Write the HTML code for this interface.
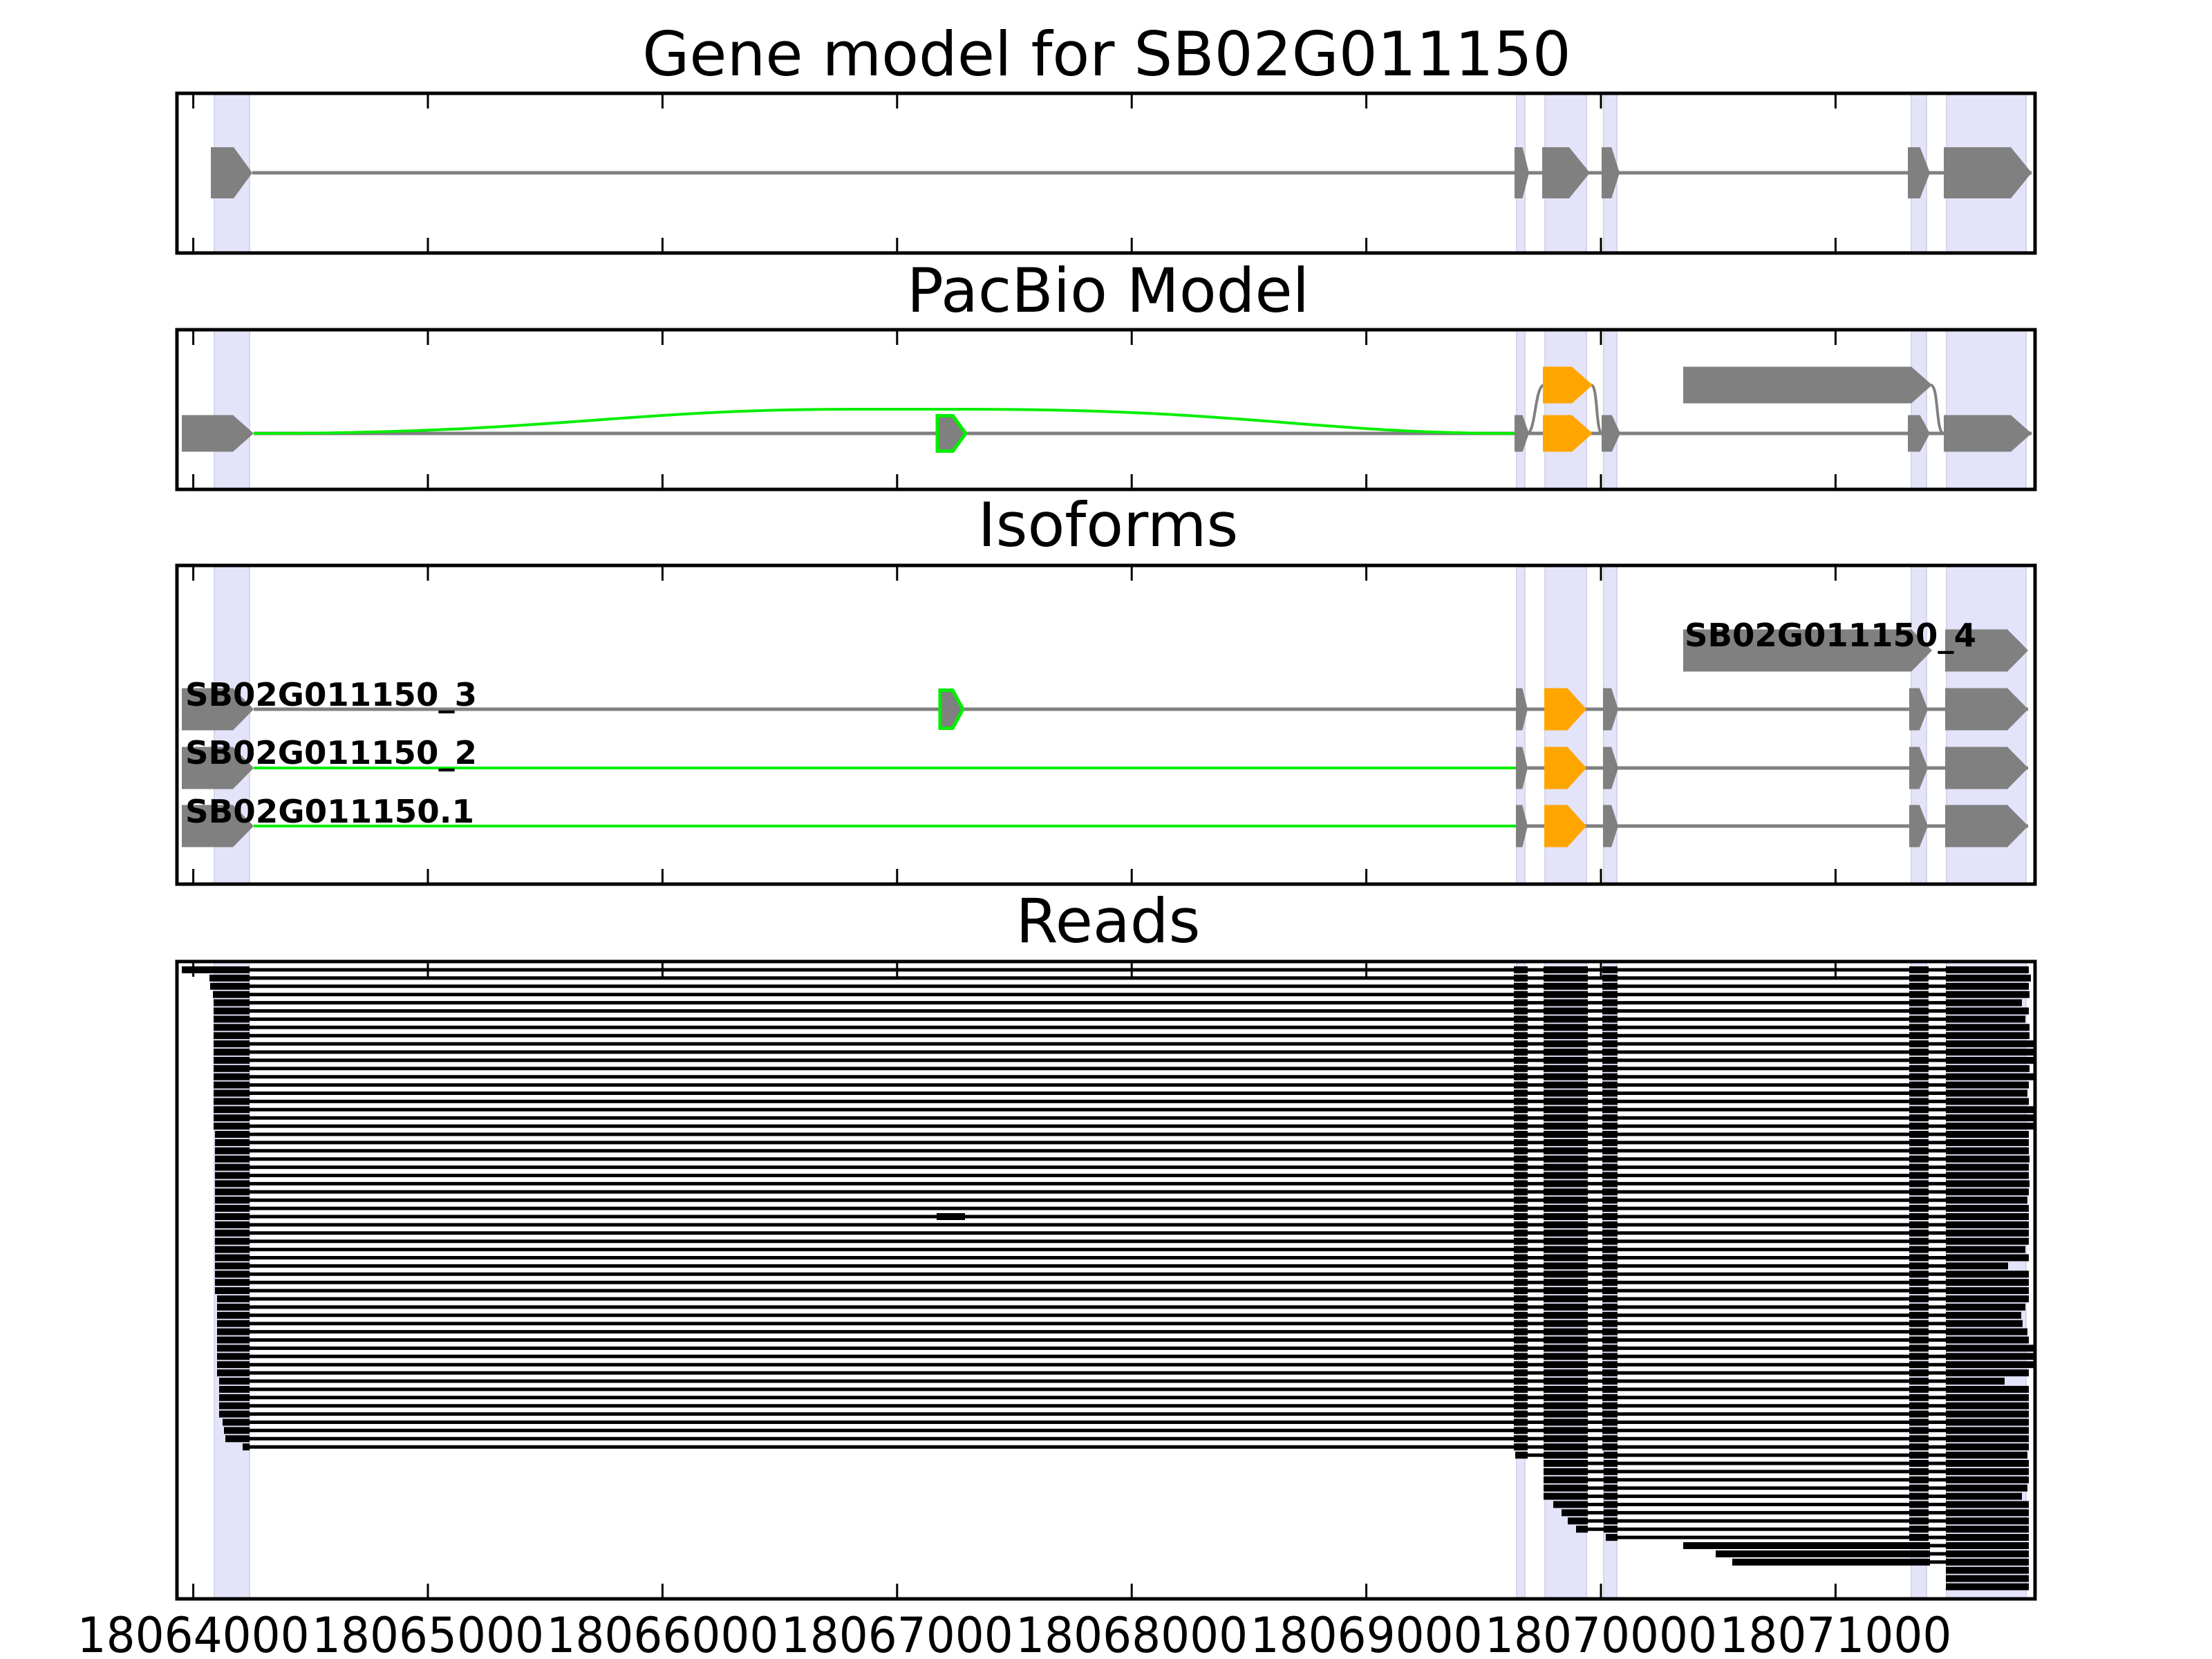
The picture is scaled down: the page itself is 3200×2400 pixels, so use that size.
<!DOCTYPE html>
<html><head><meta charset="utf-8"><style>html,body{margin:0;padding:0;background:#fff}svg{display:block}</style></head>
<body>
<svg id="s" xmlns="http://www.w3.org/2000/svg" width="3200" height="2400" viewBox="0 0 3200 2400" font-family="'DejaVu Sans','Liberation Sans',sans-serif">
<rect width="3200" height="2400" fill="#fff"/>
<g id="hl"></g>
<g id="content"></g>
<g id="frames" fill="none" stroke="#000" stroke-width="5"></g>
<g font-size="88" text-anchor="middle" fill="#000">
<text x="1601" y="109">Gene model for SB02G011150</text>
<text x="1603" y="451">PacBio Model</text>
<text x="1603" y="790">Isoforms</text>
<text x="1603" y="1363">Reads</text>
</g>
<g font-size="46" font-weight="bold" fill="#000">
<text x="268" y="1021" textLength="422" lengthAdjust="spacingAndGlyphs">SB02G011150_3</text>
<text x="268" y="1105" textLength="422" lengthAdjust="spacingAndGlyphs">SB02G011150_2</text>
<text x="268" y="1190" textLength="418" lengthAdjust="spacingAndGlyphs">SB02G011150.1</text>
<text x="2437" y="935" textLength="422" lengthAdjust="spacingAndGlyphs">SB02G011150_4</text>
</g>
<g font-size="70" text-anchor="middle" fill="#000" id="xl"></g>
</svg>
<script>
var NS="http://www.w3.org/2000/svg";
function el(p,t,a){var e=document.createElementNS(NS,t);for(var k in a)e.setAttribute(k,a[k]);document.getElementById(p).appendChild(e);return e;}
var panels=[[135,366],[477,708],[818,1279],[1391,2313]];
var cols=[[310,361],[2194,2206],[2235,2295],[2320,2339],[2765,2787],[2816,2931]];
panels.forEach(function(p){
 cols.forEach(function(c){el("hl","rect",{x:c[0],y:p[0],width:c[1]-c[0],height:p[1]-p[0],fill:"#e3e3fa",stroke:"#d6d6ea","stroke-width":2});});
});
function exon(x1,x2,cy,h,fill,stroke){
 var t=Math.min(30,(x2-x1)*0.45),a=x2-t,hh=h/2;
 var pts=[[x1,cy-hh],[a,cy-hh],[x2,cy],[a,cy+hh],[x1,cy+hh]].map(function(p){return p.join(",");}).join(" ");
 var o={points:pts,fill:fill};
 if(stroke){o.stroke=stroke;o["stroke-width"]=5;}
 el("content","polygon",o);
}
function line(x1,x2,y,c,w){el("content","line",{x1:x1,x2:x2,y1:y,y2:y,stroke:c,"stroke-width":w||5});}
var G="#808080",O="#ffa500",GR="#00ee00";
line(365,2939,250,G);
[[305,365],[2191,2212],[2231,2300],[2317,2343],[2760,2792],[2812,2939]].forEach(function(e){exon(e[0],e[1],250,74,G);});
line(367,2939,627,G);
el("content","path",{d:"M2209,627 C2222,627 2220,557 2234,557 M2302,557 C2312,557 2308,627 2318,627 M2793,557 C2805,557 2800,627 2812,627",fill:"none",stroke:G,"stroke-width":4});
el("content","path",{d:"M367,627 C800,627 900,592 1230,592 L1400,592 C1800,592 1900,627 2191,627",fill:"none",stroke:GR,"stroke-width":4});
[[263,367,G],[2191,2212,G],[2232,2304,O],[2317,2344,G],[2760,2792,G],[2812,2939,G]].forEach(function(e){exon(e[0],e[1],627,53,e[2]);});
exon(1356,1397,627,51,G,GR);
exon(2232,2304,557,53,O);exon(2435,2795,557,53,G);
exon(2435,2795,941,61,G);exon(2814,2934,941,61,G);
[[1026,G],[1111,GR],[1195,GR]].forEach(function(r,i){
 var y=r[0];
 line(367,2193,y,r[1],i?4:5);
 line(2193,2934,y,G,5);
 [[263,367,G],[2193,2210,G],[2234,2295,O],[2319,2341,G],[2762,2789,G],[2814,2934,G]].forEach(function(e){exon(e[0],e[1],y,61,e[2]);});
 if(i==0)exon(1360,1393,y,55,G,GR);
});
var Rs=[2935,2938,2935,2936,2925,2935,2930,2936,2936,2944,2944,2944,2936,2944,2935,2933,2935,2944,2944,2944,2935,2935,2935,2936,2935,2935,2936,2935,2933,2935,2935,2935,2935,2935,2930,2935,2905,2935,2935,2935,2935,2930,2924,2926,2933,2935,2944,2944,2944,2935,2900,2935,2935,2935,2935,2935,2935,2935,2935,2933,2935,2935,2935,2933,2925,2935,2935,2935,2935,2935,2935,2935,2935,2935,2935,2935];
function blk(x1,x2,y){el("content","rect",{x:x1,y:y-5,width:x2-x1,height:10,fill:"#000"});}
for(var i=0;i<76;i++){
 var y=1403+11.9*i,R=Rs[i];
 if(i<59){
  var L=i==0?263:i==1?303:i==2?304:i==3?308:i<20?309:i<40?311:i<50?314:i<55?317:i==55?322:i==56?324:i==57?326:351;
  line(L,R,y,"#000",5);
  blk(L,361,y);blk(2190,2210,y);blk(2233,2297,y);blk(2318,2340,y);blk(2762,2790,y);blk(2815,R,y);
  if(i==30)blk(1355,1396,y);
 } else if(i<70){
  var s=i==59?2192:i<65?2233:[2247,2259,2268,2280,2323][i-65];
  line(s,R,y,"#000",5);
  if(i==59)blk(2192,2210,y);
  if(i<69)blk(Math.max(s,2233),2297,y);
  blk(Math.max(s,2320),2340,y);blk(2762,2790,y);blk(2815,R,y);
 } else if(i<73){
  var s=[2435,2482,2506][i-70];
  line(s,R,y,"#000",5);blk(s,2792,y);blk(2815,R,y);
 } else blk(2815,2935,y);
}
panels.forEach(function(p){
 el("frames","rect",{x:256,y:p[0],width:2688,height:p[1]-p[0]});
 for(var k=0;k<8;k++){var x=279.6+339.4*k;
  el("frames","line",{x1:x,x2:x,y1:p[0],y2:p[0]+22,"stroke-width":3});
  el("frames","line",{x1:x,x2:x,y1:p[1],y2:p[1]-22,"stroke-width":3});}
});
for(var k=0;k<8;k++){var t=el("xl","text",{x:279.6+339.4*k,y:2390,textLength:336,lengthAdjust:"spacingAndGlyphs"});t.textContent=String(18064000+1000*k);}
</script>
</body></html>
